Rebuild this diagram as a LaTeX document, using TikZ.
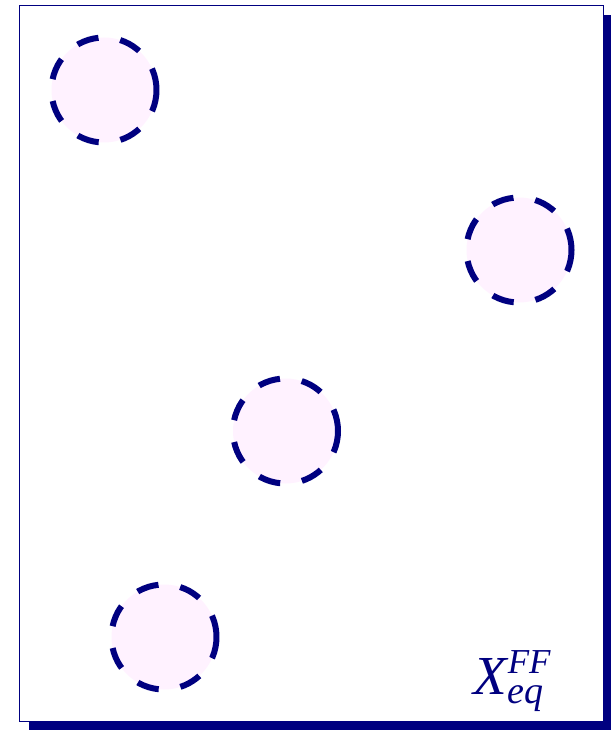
\documentclass[tikz,border=0pt]{standalone}
\usepackage{fontspec}
\setmainfont{Liberation Serif}
\definecolor{navy}{RGB}{0,0,128}
\definecolor{pinkfill}{RGB}{255,242,255}
\begin{document}
\begin{tikzpicture}[x=1pt,y=-1pt,
  dcirc/.style={circle,draw=navy,fill=pinkfill,line width=6pt,
    dash pattern=on 22pt off 22pt,minimum size=105pt,inner sep=0pt},
  lbl/.style={text=navy,inner sep=0pt,anchor=base west,font=\itshape}]
\useasboundingbox (0,0) rectangle (611,730);
\fill[navy] (29,15) rectangle (611,730);
\draw[navy,fill=white,line width=1pt] (19.5,5.5) rectangle (603,721);
\node[dcirc] (c1) at (104,90) {};
\node[dcirc] (c2) at (519,250) {};
\node[dcirc] (c3) at (285.5,431) {};
\node[dcirc] (c4) at (164,637) {};
\node[lbl] (x) at (473,694) {{\fontsize{55}{55}\selectfont X}\kern1pt\rlap{\raisebox{21pt}{\fontsize{35}{35}\selectfont FF}}\raisebox{-9pt}{\fontsize{38}{38}\selectfont eq}};
\end{tikzpicture}
\end{document}
